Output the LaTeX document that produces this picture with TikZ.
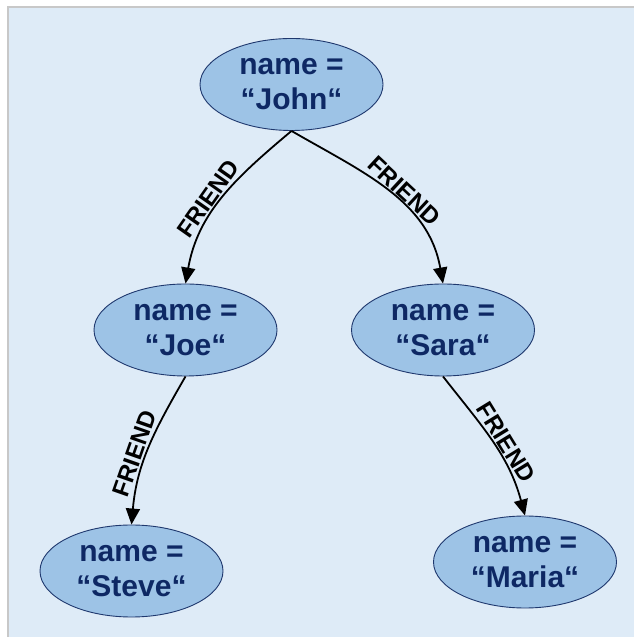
\documentclass[tikz,border=0pt]{standalone}
\usepackage{fontspec}
\setmainfont{Liberation Sans}
\usetikzlibrary{shapes.geometric,arrows.meta}

\definecolor{panelbg}{RGB}{222,235,247}
\definecolor{panelline}{RGB}{200,200,200}
\definecolor{nodefill}{RGB}{157,195,230}
\definecolor{nodeline}{RGB}{31,56,110}
\definecolor{nodetext}{RGB}{14,40,100}

\tikzset{
  person/.style={ellipse, draw=nodeline, line width=0.9pt, fill=nodefill,
    minimum width=183pt, minimum height=92pt, inner sep=0pt,
    align=center, text=nodetext,
    font=\fontsize{30}{35}\selectfont\bfseries},
  rel/.style={line width=1.8pt, -{Triangle[length=16pt,width=14pt]}},
  rellabel/.style={sloped, above, inner sep=2pt, text=black,
    font=\fontsize{24}{26}\selectfont\bfseries}
}

\begin{document}
\begin{tikzpicture}[x=1pt,y=1pt]
  % canvas and panel
  \useasboundingbox (0,0) rectangle (634,637);
  \fill[white] (0,0) rectangle (634,637);
  \fill[panelbg] (8,0) rectangle (634,630);
  \draw[panelline, line width=1.5pt] (8,0) -- (8,630) -- (634,630);

  % people
  \node[person] (john)  at (291.5,552.5) {name =\\“John“};
  \node[person] (joe)   at (185.5,307)   {name =\\“Joe“};
  \node[person] (sara)  at (443,307)     {name =\\“Sara“};
  \node[person] (steve) at (131.5,66)    {name =\\“Steve“};
  \node[person] (maria) at (525,75)      {name =\\“Maria“};

  % friendships
  \draw[rel] (john.south) to[out=220,in=80]
    node[rellabel, pos=0.55] {FRIEND} (joe.north);
  \draw[rel] (john.south) to[out=-30,in=100]
    node[rellabel, pos=0.55] {FRIEND} (sara.north);
  \draw[rel] (joe.south) to[out=240,in=85]
    node[rellabel, pos=0.57] {FRIEND} (steve.north);
  \draw[rel] (sara.south) to[out=-52,in=105]
    node[rellabel, pos=0.55] {FRIEND} (maria.north);
\end{tikzpicture}
\end{document}
